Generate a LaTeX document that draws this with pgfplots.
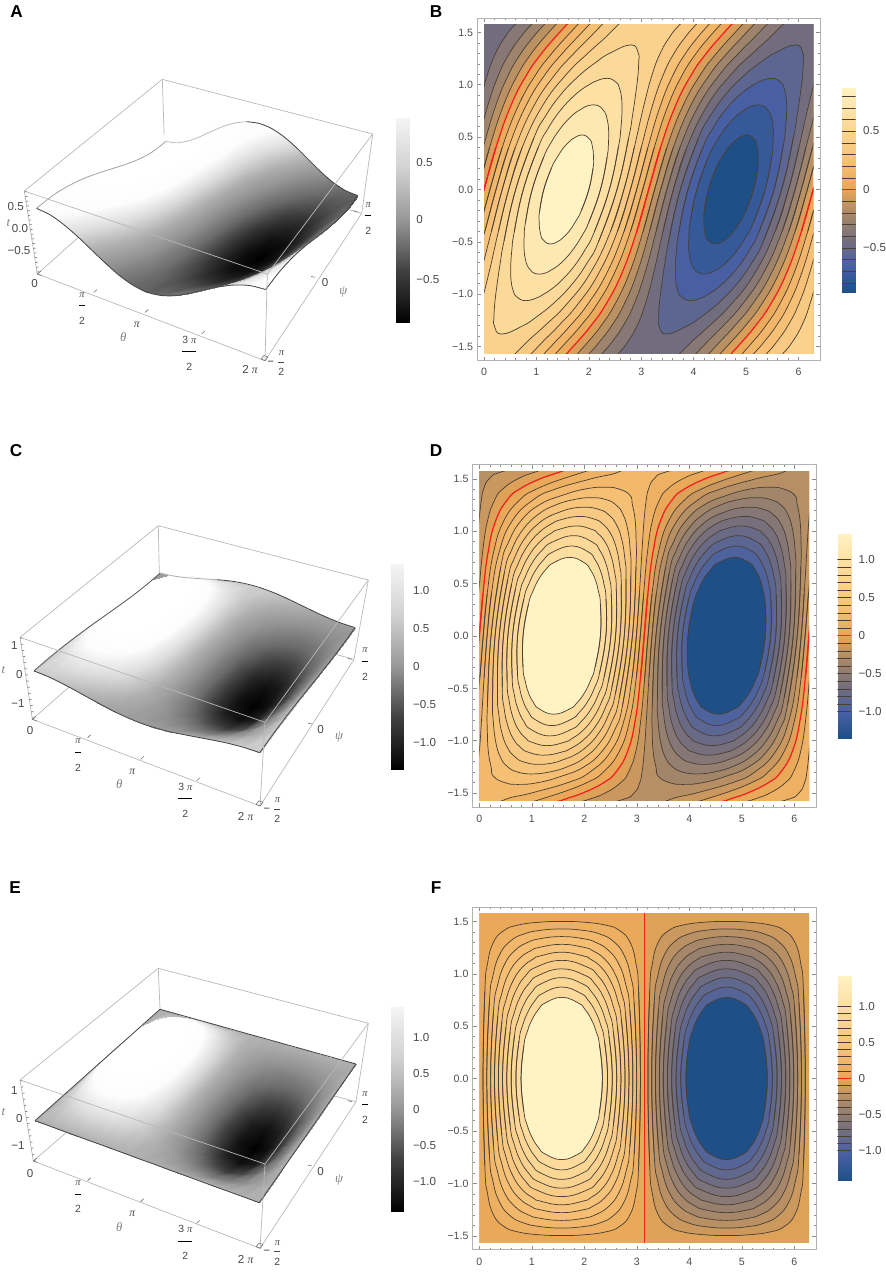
\documentclass[border=0pt]{standalone}
\usepackage{fontspec}
\usepackage{pgfplots}
\usepackage{pgfplotstable}
\pgfplotsset{compat=1.18}
\setmainfont{Liberation Sans}
\newfontfamily\sr{Liberation Serif}
\definecolor{cline}{rgb}{.29,.25,.21}
\definecolor{boxl}{gray}{.72}
\definecolor{redl}{rgb}{.95,.12,.12}
\pgfplotsset{
 colormap={lake}{rgb255=(30,80,135) rgb255=(70,95,165) rgb255=(115,110,125) rgb255=(165,135,105) rgb255=(232,165,85) rgb255=(245,190,115) rgb255=(250,208,140) rgb255=(253,225,165) rgb255=(255,243,195)},
 colormap={bws}{gray=(0) gray=(.2) gray=(.42) gray=(.57) gray=(.69) gray=(.86) gray=(.99) gray=(1) gray=(1)},
 colormap={bwc}{gray=(0) gray=(.13) gray=(.25) gray=(.42) gray=(.59) gray=(.71) gray=(.82) gray=(.89) gray=(.96)},
 every axis plot/.append style={forget plot},
 fl/.style={color of colormap={#1},fill=.,draw=none,smooth,tension=.8},
 cl/.style={draw=cline,fill=none,line width=.36pt,smooth,tension=.8},
 rl/.style={draw=redl,fill=none,line width=.62pt,smooth,tension=.8},
 bx/.style={draw=boxl,line width=.35pt},
}
\newcommand\tb[2]{\pgfplotstableread[row sep=\\]{x y\\#2}#1}
% ---- contour tables: half curves (upper half of a lobe) with one point of overlap past psi=0
% panel B
\tb\BR{2.915 -.4\\3.142 0\\3.368 .4\\3.654 .8\\3.962 1.1\\4.242 1.3\\4.494 1.45\\4.712 1.571\\5.035 1.75\\5.3 2.2\\1.6 2.2\\1.893 1.75\\1.571 1.571\\1.352 1.45\\1.1 1.3\\.82 1.1\\.512 .8\\.227 .4\\0 0\\-.226 -.4\\}
\tb\Ba{2.795 -.4\\3.028 0\\3.248 .4\\3.511 .8\\3.79 1.1\\4.048 1.3\\4.288 1.45\\4.503 1.571\\4.833 1.75\\5.1 2.2\\1.8 2.2\\2.096 1.75\\1.781 1.571\\1.558 1.45\\1.294 1.3\\.992 1.1\\.655 .8\\.347 .4\\.114 0\\-.106 -.4\\}
\tb\Bb{2.672 -.4\\2.912 0\\3.126 .4\\3.365 .8\\3.613 1.1\\3.846 1.3\\4.072 1.45\\4.283 1.571\\4.622 1.75\\4.9 2.2\\2.0 2.2\\2.307 1.75\\2.0 1.571\\1.774 1.45\\1.496 1.3\\1.169 1.1\\.801 .8\\.47 .4\\.229 0\\.016 -.4\\}
\tb\Bc{2.546 -.4\\2.794 0\\3.0 .4\\3.213 .8\\3.424 1.1\\3.626 1.3\\3.833 1.45\\4.038 1.571\\4.389 1.75\\4.7 2.2\\2.3 2.2\\2.54 1.75\\2.245 1.571\\2.013 1.45\\1.716 1.3\\1.359 1.1\\.953 .8\\.596 .4\\.348 0\\.142 -.4\\}
\tb\Bd{2.414 -.4\\2.67 0\\2.867 .4\\3.049 .8\\3.21 1.1\\3.362 1.3\\3.534 1.45\\3.729 1.571\\4.103 1.75\\4.4 2.2\\2.6 2.2\\2.826 1.75\\2.554 1.571\\2.312 1.45\\1.98 1.3\\1.573 1.1\\1.117 .8\\.728 .4\\.472 0\\.275 -.4\\}
\tb\Be{2.191 -.491\\2.537 0\\2.759 .491\\2.83 .695\\2.891 .902\\2.935 1.081\\2.951 1.2165\\2.944 1.3017\\2.804 1.381\\2.403 1.3017\\2.141 1.2165\\1.802 1.081\\1.458 .902\\1.166 .695\\.951 .491\\.604 0\\.383 -.491\\}
\tb\Bf{2.105 -.4045\\2.391 0\\2.564 .4045\\2.609 .571\\2.632 .739\\2.623 .877\\2.581 .971\\2.522 1.0232\\2.345 1.0615\\2.081 1.0232\\1.909 .971\\1.681 .877\\1.432 .739\\1.208 .571\\1.037 .4045\\.75 0\\.578 -.4045\\}
\tb\Bg{2.0 -.3125\\2.222 0\\2.349 .3125\\2.374 .4415\\2.377 .57\\2.348 .675\\2.298 .744\\2.2235 .7877\\2.09 .8085\\1.922 .7877\\1.776 .744\\1.617 .675\\1.438 .57\\1.273 .4415\\1.142 .3125\\.92 0\\.793 -.3125\\}
\tb\Bh{1.857 -.202\\2.0 0\\2.079 .202\\2.091 .285\\2.084 .368\\2.058 .435\\2.016 .48\\1.874 .5205\\1.679 .48\\1.581 .435\\1.472 .368\\1.369 .285\\1.285 .202\\1.141 0\\1.063 -.202\\}
% panel D
\tb\DR{3.072 -.4\\3.142 0\\3.211 .4\\3.31 .8\\3.455 1.1\\3.678 1.3\\3.906 1.4\\4.307 1.5\\4.712 1.571\\5.38 1.7\\5.6 2.2\\2.0 2.2\\2.24 1.7\\1.571 1.571\\1.165 1.5\\.764 1.4\\.536 1.3\\.3135 1.1\\.168 .8\\.07 .4\\0 0\\-.069 -.4\\}
\tb\Da{2.992 -.4\\3.067 0\\3.131 .4\\3.205 .8\\3.299 1.1\\3.438 1.3\\3.585 1.4\\3.881 1.5\\4.247 1.571\\5.018 1.7\\5.2 2.2\\2.4 2.2\\2.604 1.7\\2.037 1.571\\1.591 1.5\\1.085 1.4\\.776 1.3\\.47 1.1\\.273 .8\\.15 .4\\.074 0\\.011 -.4\\}
\tb\Db{2.911 -.4\\2.993 0\\3.05 .4\\3.099 .8\\3.139 1.1\\3.182 1.3\\3.225 1.4\\3.333 1.5\\3.598 1.571\\4.59 1.7\\4.8 2.2\\2.9 2.2\\3.03 1.7\\2.686 1.571\\2.139 1.5\\1.445 1.4\\1.032 1.3\\.63 1.1\\.379 .8\\.231 .4\\.149 0\\.092 -.4\\}
\tb\Dc{2.733 -.657\\2.9175 0\\2.986 .657\\2.989 .897\\2.969 1.107\\2.916 1.254\\2.872 1.341\\2.659 1.4015\\2.395 1.419\\2.0176 1.4015\\1.579 1.341\\1.157 1.254\\.809 1.107\\.56 .897\\.409 .657\\.224 0\\.156 -.657\\}
\tb\Dd{2.667 -.5955\\2.841 0\\2.889 .5955\\2.875 .8185\\2.827 1.017\\2.737 1.161\\2.612 1.246\\2.4255 1.2985\\2.14 1.319\\1.784 1.2985\\1.44 1.246\\1.129 1.161\\.836 1.017\\.615 .8185\\.475 .5955\\.301 0\\.253 -.5955\\}
\tb\De{2.599 -.54\\2.762 0\\2.796 .54\\2.771 .747\\2.707 .935\\2.6 1.073\\2.462 1.156\\2.297 1.2042\\2.004 1.228\\1.655 1.2042\\1.397 1.156\\1.131 1.073\\.874 .935\\.674 .747\\.543 .54\\.38 0\\.346 -.54\\}
\tb\Df{2.528 -.49\\2.681 0\\2.704 .49\\2.672 .681\\2.6 .857\\2.487 .989\\2.346 1.07\\2.2127 1.1104\\1.915 1.14\\1.571 1.1104\\1.38 1.07\\1.146 .989\\.918 .857\\.735 .681\\.614 .49\\.461 0\\.438 -.49\\}
\tb\Dg{2.455 -.443\\2.597 0\\2.611 .443\\2.575 .617\\2.5 .78\\2.385 .905\\2.248 .982\\2.151 1.0143\\1.85 1.049\\1.509 1.0143\\1.378 .982\\1.17 .905\\.966 .78\\.8 .617\\.687 .443\\.545 0\\.531 -.443\\}
\tb\Dh{2.377 -.397\\2.507 0\\2.515 .397\\2.478 .554\\2.402 .704\\2.291 .819\\2.164 .892\\1.8 .956\\1.381 .892\\1.201 .819\\1.018 .704\\.868 .554\\.765 .397\\.634 0\\.627 -.397\\}
\tb\Di{2.294 -.35\\2.412 0\\2.415 .35\\2.377 .49\\2.305 .626\\2.201 .73\\2.084 .798\\1.759 .857\\1.393 .798\\1.234 .73\\1.074 .626\\.94 .49\\.848 .35\\.73 0\\.727 -.35\\}
\tb\Dj{2.205 -.302\\2.308 0\\2.308 .302\\2.27 .424\\2.205 .543\\2.11 .636\\2.005 .696\\1.723 .749\\1.411 .696\\1.274 .636\\1.135 .543\\1.02 .424\\.937 .302\\.834 0\\.834 -.302\\}
% panel F
\tb\Fa{3.036 -.833\\3.07 0\\3.036 .833\\2.984 1.101\\2.872 1.301\\2.672 1.413\\2.404 1.465\\1.992 1.4925\\1.571 1.4995\\1.15 1.4925\\.738 1.465\\.47 1.413\\.27 1.301\\.158 1.101\\.106 .833\\.0715 0\\.106 -.833\\}
\tb\Fb{2.95 -.727\\2.998 0\\2.95 .727\\2.883 .979\\2.754 1.183\\2.55 1.312\\2.298 1.379\\1.992 1.4136\\1.571 1.428\\1.15 1.4136\\.844 1.379\\.592 1.312\\.388 1.183\\.259 .979\\.192 .727\\.143 0\\.192 -.727\\}
\tb\Fc{2.869 -.654\\2.926 0\\2.869 .654\\2.795 .889\\2.661 1.09\\2.46 1.224\\2.225 1.298\\1.992 1.334\\1.571 1.355\\1.15 1.334\\.917 1.298\\.682 1.224\\.481 1.09\\.347 .889\\.273 .654\\.216 0\\.273 -.654\\}
\tb\Fd{2.79 -.594\\2.852 0\\2.79 .594\\2.713 .814\\2.578 1.007\\2.385 1.142\\2.165 1.219\\1.992 1.2524\\1.571 1.281\\1.15 1.2524\\.977 1.219\\.757 1.142\\.564 1.007\\.429 .814\\.352 .594\\.29 0\\.352 -.594\\}
\tb\Fe{2.712 -.542\\2.777 0\\2.712 .542\\2.635 .747\\2.501 .93\\2.318 1.064\\2.113 1.141\\1.992 1.1688\\1.571 1.206\\1.15 1.1688\\1.029 1.141\\.824 1.064\\.641 .93\\.507 .747\\.43 .542\\.365 0\\.43 -.542\\}
\tb\Ff{2.633 -.493\\2.699 0\\2.633 .493\\2.556 .683\\2.428 .857\\2.254 .985\\2.064 1.062\\1.571 1.128\\1.078 1.062\\.888 .985\\.714 .857\\.586 .683\\.509 .493\\.443 0\\.509 -.493\\}
\tb\Fg{2.554 -.449\\2.618 0\\2.554 .449\\2.479 .623\\2.357 .786\\2.194 .908\\2.02 .983\\1.571 1.047\\1.122 .983\\.948 .908\\.785 .786\\.663 .623\\.588 .449\\.524 0\\.588 -.449\\}
\tb\Fh{2.472 -.405\\2.534 0\\2.472 .405\\2.4 .564\\2.285 .714\\2.135 .829\\1.976 .901\\1.571 .963\\1.166 .901\\1.007 .829\\.857 .714\\.742 .564\\.67 .405\\.608 0\\.67 -.405\\}
\tb\Fi{2.385 -.359\\2.444 0\\2.385 .359\\2.318 .504\\2.211 .64\\2.075 .747\\1.93 .814\\1.571 .873\\1.212 .814\\1.067 .747\\.931 .64\\.824 .504\\.757 .359\\.698 0\\.757 -.359\\}
\tb\Fj{2.292 -.315\\2.346 0\\2.292 .315\\2.231 .442\\2.135 .564\\2.013 .66\\1.886 .721\\1.571 .775\\1.256 .721\\1.129 .66\\1.007 .564\\.911 .442\\.85 .315\\.796 0\\.85 -.315\\}
% ---- surfaces: t = theta index (pi/8), p = psi index (pi/8 from -pi/2)
\pgfplotstableread{
t p zA zC zE
0 0 .480 .223 0
1 0 .444 .206 0
2 0 .339 .158 0
3 0 .184 .085 0
4 0 0 0 0
5 0 -.184 -.085 0
6 0 -.339 -.158 0
7 0 -.444 -.206 0
8 0 -.480 -.223 0
9 0 -.444 -.206 0
10 0 -.339 -.158 0
11 0 -.184 -.085 0
12 0 0 0 0
13 0 .184 .085 0
14 0 .339 .158 0
15 0 .444 .206 0
16 0 .480 .223 0
0 1 .444 .206 0
1 1 .539 .388 .208
2 1 .552 .511 .384
3 1 .481 .557 .502
4 1 .337 .517 .543
5 1 .141 .399 .502
6 1 -.076 .220 .384
7 1 -.281 .008 .208
8 1 -.444 -.206 0
9 1 -.539 -.388 -.208
10 1 -.552 -.511 -.384
11 1 -.481 -.557 -.502
12 1 -.337 -.517 -.543
13 1 -.141 -.399 -.502
14 1 .076 -.220 -.384
15 1 .281 -.008 -.208
16 1 .444 .206 0
0 2 .339 .158 0
1 2 .552 .511 .384
2 2 .680 .786 .710
3 2 .705 .942 .928
4 2 .622 .955 1.004
5 2 .445 .822 .928
6 2 .200 .564 .710
7 2 -.076 .220 .384
8 2 -.339 -.158 0
9 2 -.552 -.511 -.384
10 2 -.680 -.786 -.710
11 2 -.705 -.942 -.928
12 2 -.622 -.955 -1.004
13 2 -.445 -.822 -.928
14 2 -.200 -.564 -.710
15 2 .076 -.220 -.384
16 2 .339 .158 0
0 3 .184 .085 0
1 3 .481 .557 .502
2 3 .705 .942 .928
3 3 .821 1.185 1.212
4 3 .813 1.247 1.312
5 3 .681 1.120 1.212
6 3 .445 .822 .928
7 3 .141 .399 .502
8 3 -.184 -.085 0
9 3 -.481 -.557 -.502
10 3 -.705 -.942 -.928
11 3 -.821 -1.185 -1.212
12 3 -.813 -1.247 -1.312
13 3 -.681 -1.120 -1.212
14 3 -.445 -.822 -.928
15 3 -.141 -.399 -.502
16 3 .184 .085 0
0 4 0 0 0
1 4 .337 .517 .543
2 4 .622 .955 1.004
3 4 .813 1.247 1.312
4 4 .880 1.350 1.420
5 4 .813 1.247 1.312
6 4 .622 .955 1.004
7 4 .337 .517 .543
8 4 0 0 0
9 4 -.337 -.517 -.543
10 4 -.622 -.955 -1.004
11 4 -.813 -1.247 -1.312
12 4 -.880 -1.350 -1.420
13 4 -.813 -1.247 -1.312
14 4 -.622 -.955 -1.004
15 4 -.337 -.517 -.543
16 4 0 0 0
0 5 -.184 -.085 0
1 5 .141 .399 .502
2 5 .445 .822 .928
3 5 .681 1.120 1.212
4 5 .813 1.247 1.312
5 5 .821 1.185 1.212
6 5 .705 .942 .928
7 5 .481 .557 .502
8 5 .184 .085 0
9 5 -.141 -.399 -.502
10 5 -.445 -.822 -.928
11 5 -.681 -1.120 -1.212
12 5 -.813 -1.247 -1.312
13 5 -.821 -1.185 -1.212
14 5 -.705 -.942 -.928
15 5 -.481 -.557 -.502
16 5 -.184 -.085 0
0 6 -.339 -.158 0
1 6 -.076 .220 .384
2 6 .200 .564 .710
3 6 .445 .822 .928
4 6 .622 .955 1.004
5 6 .705 .942 .928
6 6 .680 .786 .710
7 6 .552 .511 .384
8 6 .339 .158 0
9 6 .076 -.220 -.384
10 6 -.200 -.564 -.710
11 6 -.445 -.822 -.928
12 6 -.622 -.955 -1.004
13 6 -.705 -.942 -.928
14 6 -.680 -.786 -.710
15 6 -.552 -.511 -.384
16 6 -.339 -.158 0
0 7 -.444 -.206 0
1 7 -.281 .008 .208
2 7 -.076 .220 .384
3 7 .141 .399 .502
4 7 .337 .517 .543
5 7 .481 .557 .502
6 7 .552 .511 .384
7 7 .539 .388 .208
8 7 .444 .206 0
9 7 .281 -.008 -.208
10 7 .076 -.220 -.384
11 7 -.141 -.399 -.502
12 7 -.337 -.517 -.543
13 7 -.481 -.557 -.502
14 7 -.552 -.511 -.384
15 7 -.539 -.388 -.208
16 7 -.444 -.206 0
0 8 -.480 -.223 0
1 8 -.444 -.206 0
2 8 -.339 -.158 0
3 8 -.184 -.085 0
4 8 0 0 0
5 8 .184 .085 0
6 8 .339 .158 0
7 8 .444 .206 0
8 8 .480 .223 0
9 8 .444 .206 0
10 8 .339 .158 0
11 8 .184 .085 0
12 8 0 0 0
13 8 -.184 -.085 0
14 8 -.339 -.158 0
15 8 -.444 -.206 0
16 8 -.480 -.223 0
}\surfdata
\pgfplotstableread{
x m d
0 -1 0
1 -1 0
0 -.75 0
1 -.75 0
0 -.5 0
1 -.5 0
0 -.25 0
1 -.25 0
0 0 0
1 0 0
0 .25 0
1 .25 0
0 .5 0
1 .5 0
0 .75 0
1 .75 0
0 1 0
1 1 0
}\cbdata
% ---- helpers
\newcommand\hf[3]{%
 \addplot[#3] table[x expr=\thisrow{x}+#2,y expr=\thisrow{y}]{#1};
 \addplot[#3] table[x expr=3.14159-\thisrow{x}+#2,y expr=-\thisrow{y}]{#1};}
\newcommand\levC[3]{\hf{#1}{0}{fl=#2}\hf{#1}{3.14159}{fl=#3}\hf{#1}{0}{cl}\hf{#1}{3.14159}{cl}}
\newcommand\levO[3]{\hf{#1}{0}{fl=#2}\hf{#1}{6.28319}{fl=#2}\hf{#1}{3.14159}{fl=#3}\hf{#1}{-3.14159}{fl=#3}%
 \hf{#1}{0}{cl}\hf{#1}{6.28319}{cl}\hf{#1}{3.14159}{cl}\hf{#1}{-3.14159}{cl}}
\newcommand\base[1]{\addplot[fl=#1,sharp plot] coordinates {(-1,-2)(7,-2)(7,2)(-1,2)};}
\newenvironment{inner}[2]{\begin{axis}[hide axis,scale only axis,anchor=south west,at={(#1)},#2,colormap name=lake,xmin=0,xmax=6.28319,ymin=-1.5708,ymax=1.5708]}{\end{axis}}
\newcommand\frameax[2]{\begin{axis}[scale only axis,anchor=south west,at={(#1)},#2,xmin=-.128,xmax=6.411,ymin=-1.635,ymax=1.635,
 axis line style={draw=black!30,line width=.5pt},tick style={draw=black!45,line width=.3pt},tick align=inside,major tick length=2pt,minor tick length=1.1pt,
 xtick={0,1,2,3,4,5,6},ytick={-1.5,-1,-.5,0,.5,1,1.5},minor x tick num=4,minor y tick num=4,
 xticklabels={0,1,2,3,4,5,6},yticklabels={−1.5,−1.0,−0.5,0.0,0.5,1.0,1.5},
 tick label style={font=\fontsize{5.3}{6}\selectfont,text=black!70},
 xticklabel style={yshift=-.4pt},yticklabel style={xshift=1.4pt}]
 \addplot[draw=none] coordinates {(0,0)};
 \end{axis}}
\newcommand\cbar[5]{% at, A, colormap, height, levels
 \begin{axis}[hide axis,scale only axis,anchor=south west,at={(#1)},width=7pt,height=#4,xmin=0,xmax=1,ymin=-#2,ymax=#2,zmin=-1,zmax=1,view={0}{90},colormap name=#3,point meta min=-1,point meta max=1]
 \addplot3[surf,shader=interp,mesh/cols=2,point meta=\thisrow{m}] table[x=x,y expr=\thisrow{m}*#2,z=d]{\cbdata};
 #5
 \end{axis}}
\newcommand\cln[1]{\addplot3[draw=cline,line width=.4pt] coordinates {(0,#1,0)(1,#1,0)};\addplot3[draw=cline,line width=.4pt] coordinates {(0,-#1,0)(1,-#1,0)};}
\newcommand\clz{\addplot3[draw=redl,line width=.6pt] coordinates {(0,0,0)(1,0,0)};}
% px map of a surface point; #1 column, #2 half range, #3 shift
\newcommand\Xm[3]{(193.94*\thisrow{t}/16+157.35*\thisrow{p}/8+35)/(1-0.1171*\thisrow{t}/16+0.2022*\thisrow{p}/8)+\thisrow{#1}/(2*#2)*((1-\thisrow{t}/16)*(1-\thisrow{p}/8)*(-13)+\thisrow{t}/16*(1-\thisrow{p}/8)*5+\thisrow{t}/16*\thisrow{p}/8*12+(1-\thisrow{t}/16)*\thisrow{p}/8*(-3))+#3}
\newcommand\Ym[3]{(-58.84*\thisrow{t}/16+92.68*\thisrow{p}/8+1120.7)/(1-0.1171*\thisrow{t}/16+0.2022*\thisrow{p}/8)+\thisrow{#1}/(2*#2)*((1-\thisrow{t}/16)*(1-\thisrow{p}/8)*(-82)+\thisrow{t}/16*(1-\thisrow{p}/8)*(-85)+\thisrow{t}/16*\thisrow{p}/8*(-79)+(1-\thisrow{t}/16)*\thisrow{p}/8*(-81))+#3}
\newcommand\sfc[4]{\addplot3[surf,shader=interp,mesh/cols=17,point meta={\thisrow{#1}/#2}] table[x expr={\Xm{#1}{#2}{#3}},y expr={\Ym{#1}{#2}{#4}},z expr=0]{\surfdata};}
% edge: #1 col #2 A #3 dx #4 dy #5 restricted column #6 domain #7 colour
\newcommand\edg[7]{\addplot3[draw=#7,line width=.42pt,smooth,tension=.5,restrict expr to domain={\thisrow{#5}}{#6},unbounded coords=discard] table[x expr={\Xm{#1}{#2}{#3}},y expr={\Ym{#1}{#2}{#4}},z expr=0]{\surfdata};}
\newcommand\edgeb[6]{\addplot3[draw=#5,line width=.42pt,smooth,tension=.5,restrict expr to domain={\thisrow{p}}{8:8},restrict expr to domain={\thisrow{t}}{#6},unbounded coords=discard] table[x expr={\Xm{#1}{#2}{#3}},y expr={\Ym{#1}{#2}{#4}},z expr=0]{\surfdata};}
\newcommand\Ln[4]{\addplot3[bx] coordinates {(#1,#2,0)(#3,#4,0)};}
\newcommand\Tk[4]{\addplot3[draw=black!55,line width=.3pt] coordinates {(#1,#2,0)(#3,#4,0)};}
\newcommand\Zd[5]{\addplot3[draw=black!50,line width=1.2pt,dash pattern=on .35pt off #5] coordinates {(#1,#2,0)(#3,#4,0)};}
\newcommand\tx[3]{\node[inner sep=0pt] at (axis cs:#1,#2) {#3};}
\newcommand\txl[3]{\node[inner sep=0pt,anchor=west] at (axis cs:#1,#2) {#3};}
\newcommand\fs{\fontsize{5.8}{6.5}\selectfont\color{black!72}}
\newcommand\fbig{\fontsize{8.6}{10}\selectfont\bfseries\color{black}}
\newcommand\gk[1]{{\fontsize{6.4}{7}\selectfont\sr\itshape\color{black!50}#1}}
\newcommand\pf[1]{$\displaystyle\frac{\hbox{\fontsize{5.2}{5.5}\selectfont\color{black!72}#1}}{\hbox{\fontsize{5.2}{5.5}\selectfont\color{black!72}2}}$}
\newcommand\ppi{{\sr\itshape π}}
\begin{document}
\begin{tikzpicture}
\path[use as bounding box] (0,0) rectangle (443pt,639pt);
% ===== Panel B
\begin{inner}{242pt,462pt}{width=164.65pt,height=164.5pt}
\base{472}
\hf{\BR}{0}{fl=528}\hf{\BR}{6.28319}{fl=528}
\hf{\BR}{0}{rl}\hf{\BR}{6.28319}{rl}
\levO{\Ba}{585}{415}\levO{\Bb}{642}{358}\levO{\Bc}{699}{301}\levO{\Bd}{756}{244}
\levC{\Be}{813}{187}\levC{\Bf}{869}{131}\levC{\Bg}{926}{74}\levC{\Bh}{1000}{0}
\end{inner}
\frameax{238.65pt,458.65pt}{width=171.35pt,height=171.2pt}
% ===== Panel D
\begin{inner}{239.65pt,238.85pt}{width=164.85pt,height=164.5pt}
\base{482}
\hf{\DR}{0}{fl=518}\hf{\DR}{6.28319}{fl=518}
\hf{\DR}{0}{rl}\hf{\DR}{6.28319}{rl}
\levO{\Da}{556}{444}\levO{\Db}{593}{407}
\levC{\Dc}{630}{370}\levC{\Dd}{667}{333}\levC{\De}{704}{296}\levC{\Df}{741}{259}\levC{\Dg}{778}{222}\levC{\Dh}{815}{185}\levC{\Di}{852}{148}\levC{\Dj}{1000}{0}
\end{inner}
\frameax{236.35pt,235.35pt}{width=171.65pt,height=171.3pt}
% ===== Panel F
\begin{inner}{239.65pt,17.5pt}{width=164.85pt,height=164.5pt}
\base{482}
\addplot[fl=518,sharp plot] coordinates {(0,-2)(3.1416,-2)(3.1416,2)(0,2)};
\addplot[draw=redl,line width=.62pt] coordinates {(3.1416,-2)(3.1416,2)};
\levC{\Fa}{553}{447}\levC{\Fb}{588}{412}\levC{\Fc}{623}{377}\levC{\Fd}{658}{342}\levC{\Fe}{694}{306}\levC{\Ff}{729}{271}\levC{\Fg}{764}{236}\levC{\Fh}{799}{201}\levC{\Fi}{834}{166}\levC{\Fj}{1000}{0}
\end{inner}
\frameax{236.35pt,14pt}{width=171.65pt,height=171.35pt}
% ===== colour bars
\cbar{420.85pt,492.85pt}{.88}{lake}{102.5pt}{\cln{.1}\cln{.2}\cln{.3}\cln{.4}\cln{.5}\cln{.6}\cln{.7}\cln{.8}\clz}
\cbar{418.65pt,269.85pt}{1.35}{lake}{102.5pt}{\cln{.1}\cln{.2}\cln{.3}\cln{.4}\cln{.5}\cln{.6}\cln{.7}\cln{.8}\cln{.9}\cln{1}\clz}
\cbar{418.65pt,48.5pt}{1.42}{lake}{102.5pt}{\cln{.1}\cln{.2}\cln{.3}\cln{.4}\cln{.5}\cln{.6}\cln{.7}\cln{.8}\cln{.9}\cln{1}\clz}
\cbar{197.65pt,477.65pt}{.88}{bwc}{102.7pt}{}
\cbar{195.35pt,254.35pt}{1.35}{bwc}{102.6pt}{}
\cbar{195.35pt,33.15pt}{1.42}{bwc}{102.5pt}{}
% ===== 3D panels drawn in pixel coordinates of the picture
\begin{axis}[hide axis,scale only axis,anchor=south west,at={(0pt,0pt)},width=443pt,height=639pt,xmin=0,xmax=886,ymin=0,ymax=1278,zmin=-1,zmax=1,y dir=reverse,view={0}{90},colormap name=bws,point meta min=-1,point meta max=1]
% --- A
\Ln{24.3}{191}{162.3}{79.3}\Ln{162.3}{79.3}{372.7}{134}\Ln{162.3}{79.3}{165}{160}\Ln{37.3}{274}{165}{160}\Ln{361.7}{213.3}{165}{160}
\sfc{zA}{.88}{5}{-890}
\edg{zA}{.88}{5}{-890}{p}{0:0}{black!72}\edg{zA}{.88}{5}{-890}{t}{16:16}{black!72}\edg{zA}{.88}{5}{-890}{t}{0:0}{black!35}
\edgeb{zA}{.88}{5}{-890}{black!25}{0:7}\edgeb{zA}{.88}{5}{-890}{black!72}{7:16}
\Ln{24.3}{191}{267.3}{274}\Ln{267.3}{274}{372.7}{134}\Ln{24.3}{191}{37.3}{274}\Ln{267.3}{274}{265}{360.7}\Ln{372.7}{134}{361.7}{213.3}\Ln{37.3}{274}{265}{360.7}\Ln{265}{360.7}{361.7}{213.3}
\Tk{94}{292.5}{97}{289.5}\Tk{145.3}{312.3}{148.3}{309.3}\Tk{201.7}{334}{204.7}{331}\Tk{315}{277.3}{311}{276.3}\Tk{357.3}{211.7}{353.3}{210.7}
\Tk{37.3}{274}{41}{271}\Tk{37.3}{274}{41.5}{275.5}\Tk{265}{360.7}{261}{359}\Tk{265}{360.7}{268}{357}\Tk{261}{359}{264}{355.5}\Tk{268}{357}{264}{355.5}
\Zd{25.5}{191.5}{38.5}{274.5}{2.03pt}
% --- C
\Ln{20}{637.3}{158.3}{525.7}\Ln{158.3}{525.7}{368.3}{580}\Ln{158.3}{525.7}{160}{607}\Ln{32.3}{719.3}{160}{607}\Ln{354}{659.3}{160}{607}
\sfc{zC}{1.35}{0}{-443}
\edg{zC}{1.35}{0}{-443}{p}{0:0}{black!72}\edg{zC}{1.35}{0}{-443}{t}{16:16}{black!72}\edg{zC}{1.35}{0}{-443}{t}{0:0}{black!65}
\edgeb{zC}{1.35}{0}{-443}{black!30}{0:5}\edgeb{zC}{1.35}{0}{-443}{black!72}{5:16}
\Ln{20}{637.3}{265}{722.3}\Ln{265}{722.3}{368.3}{580}\Ln{20}{637.3}{32.3}{719.3}\Ln{265}{722.3}{260}{806}\Ln{368.3}{580}{354}{659.3}\Ln{32.3}{719.3}{260}{806}\Ln{260}{806}{354}{659.3}
\Tk{87.7}{737.7}{90.7}{734.7}\Tk{140.7}{759.3}{143.7}{756.3}\Tk{196.7}{780.7}{199.7}{777.7}\Tk{311.7}{724}{307.7}{723}\Tk{351.7}{659.3}{347.7}{658.3}
\Tk{32.3}{719.3}{36}{716.3}\Tk{32.3}{719.3}{36.5}{720.8}\Tk{260}{806}{256}{804.3}\Tk{260}{806}{263}{802.3}\Tk{256}{804.3}{259}{800.8}\Tk{263}{802.3}{259}{800.8}
\Zd{21.2}{637.8}{33.5}{719.8}{2.75pt}
% --- E
\Ln{20}{1080}{158.3}{968.3}\Ln{158.3}{968.3}{368.3}{1023.3}\Ln{158.3}{968.3}{161.7}{1050}\Ln{33.3}{1161}{161.7}{1050}\Ln{356}{1101.7}{161.7}{1050}
\sfc{zE}{1.42}{0}{0}
\edg{zE}{1.42}{0}{0}{p}{0:0}{black!72}\edg{zE}{1.42}{0}{0}{t}{16:16}{black!72}\edg{zE}{1.42}{0}{0}{t}{0:0}{black!72}\edg{zE}{1.42}{0}{0}{p}{8:8}{black!72}
\Ln{20}{1080}{265}{1164}\Ln{265}{1164}{368.3}{1023.3}\Ln{20}{1080}{33.3}{1161}\Ln{265}{1164}{260}{1248.3}\Ln{368.3}{1023.3}{356}{1101.7}\Ln{33.3}{1161}{260}{1248.3}\Ln{260}{1248.3}{356}{1101.7}
\Tk{87.7}{1180.7}{90.7}{1177.7}\Tk{140.7}{1201.7}{143.7}{1198.7}\Tk{196.7}{1223.3}{199.7}{1220.3}\Tk{311.7}{1166}{307.7}{1165}\Tk{351.7}{1101.7}{347.7}{1100.7}
\Tk{33.3}{1161}{37}{1158}\Tk{33.3}{1161}{37.5}{1162.5}\Tk{260}{1248.3}{256}{1246.6}\Tk{260}{1248.3}{263}{1244.6}\Tk{256}{1246.6}{259}{1243.1}\Tk{263}{1244.6}{259}{1243.1}
\Zd{21.2}{1080.5}{34.5}{1161.5}{2.75pt}
\end{axis}
% ===== all the text of the panels, in pixel coordinates
\begin{axis}[hide axis,scale only axis,anchor=south west,at={(0pt,0pt)},width=443pt,height=639pt,xmin=0,xmax=886,ymin=0,ymax=1278,y dir=reverse,clip=false]
\addplot[draw=none] coordinates {(0,0)};
\tx{16.7}{11.7}{\fbig A}\tx{16}{450.7}{\fbig C}\tx{15}{887.3}{\fbig E}
\tx{436}{11.7}{\fbig B}\tx{436}{450.7}{\fbig D}\tx{436}{888}{\fbig F}
% A
\tx{15.7}{206.7}{\fs 0.5}\tx{20}{229}{\fs 0.0}\tx{19}{251}{\fs −0.5}\tx{8.3}{223.3}{\gk{t}}
\tx{34.7}{284}{\fs 0}\tx{82}{308.3}{\pf{\ppi}}\tx{136.7}{325.3}{\fs\ppi}\tx{123.3}{337.3}{\gk{θ}}
\tx{189.3}{353.3}{\pf{3 \ppi}}\tx{250}{370}{\fs 2 \ppi}\tx{277}{363}{\fs −\,\pf{\ppi}}
\tx{325}{282.7}{\fs 0}\tx{343.3}{291.7}{\gk{ψ}}\tx{368.3}{218.3}{\pf{\ppi}}
% C
\tx{14.3}{646}{\fs 1}\tx{19.3}{675}{\fs 0}\tx{18}{704}{\fs −1}\tx{3.3}{670}{\gk{t}}
\tx{30}{730.7}{\fs 0}\tx{78}{755}{\pf{\ppi}}\tx{132.3}{772}{\fs\ppi}\tx{119.3}{784}{\gk{θ}}
\tx{185.3}{800}{\pf{3 \ppi}}\tx{245.7}{816.7}{\fs 2 \ppi}\tx{273}{810}{\fs −\,\pf{\ppi}}
\tx{320.7}{729.3}{\fs 0}\tx{339}{737.3}{\gk{ψ}}\tx{365}{664}{\pf{\ppi}}
% E
\tx{14.3}{1090}{\fs 1}\tx{19.3}{1118}{\fs 0}\tx{18}{1145.7}{\fs −1}\tx{3.3}{1112.3}{\gk{t}}
\tx{30}{1173.3}{\fs 0}\tx{78}{1196.7}{\pf{\ppi}}\tx{132.3}{1214.3}{\fs\ppi}\tx{119.3}{1226.7}{\gk{θ}}
\tx{185.3}{1242.7}{\pf{3 \ppi}}\tx{245.7}{1259.3}{\fs 2 \ppi}\tx{273}{1252.7}{\fs −\,\pf{\ppi}}
\tx{320.7}{1171.7}{\fs 0}\tx{339}{1180}{\gk{ψ}}\tx{365}{1107.3}{\pf{\ppi}}
% colour bar labels
\txl{416}{162.3}{\fs 0.5}\txl{416}{220}{\fs 0}\txl{416}{279.3}{\fs −0.5}
\txl{412.7}{590.7}{\fs 1.0}\txl{412.7}{628.7}{\fs 0.5}\txl{412.7}{666.7}{\fs 0}\txl{412.7}{705}{\fs −0.5}\txl{412.7}{742.7}{\fs −1.0}
\txl{412.7}{1037}{\fs 1.0}\txl{412.7}{1073}{\fs 0.5}\txl{412.7}{1109}{\fs 0}\txl{412.7}{1145.3}{\fs −0.5}\txl{412.7}{1181.3}{\fs −1.0}
\txl{862.7}{131}{\fs 0.5}\txl{862.7}{189.3}{\fs 0}\txl{862.7}{247.6}{\fs −0.5}
\txl{858.3}{560}{\fs 1.0}\txl{858.3}{598}{\fs 0.5}\txl{858.3}{635.7}{\fs 0}\txl{858.3}{674}{\fs −0.5}\txl{858.3}{712}{\fs −1.0}
\txl{858.3}{1006.3}{\fs 1.0}\txl{858.3}{1042.3}{\fs 0.5}\txl{858.3}{1078.3}{\fs 0}\txl{858.3}{1114.3}{\fs −0.5}\txl{858.3}{1150.3}{\fs −1.0}
\end{axis}
\end{tikzpicture}
\end{document}
